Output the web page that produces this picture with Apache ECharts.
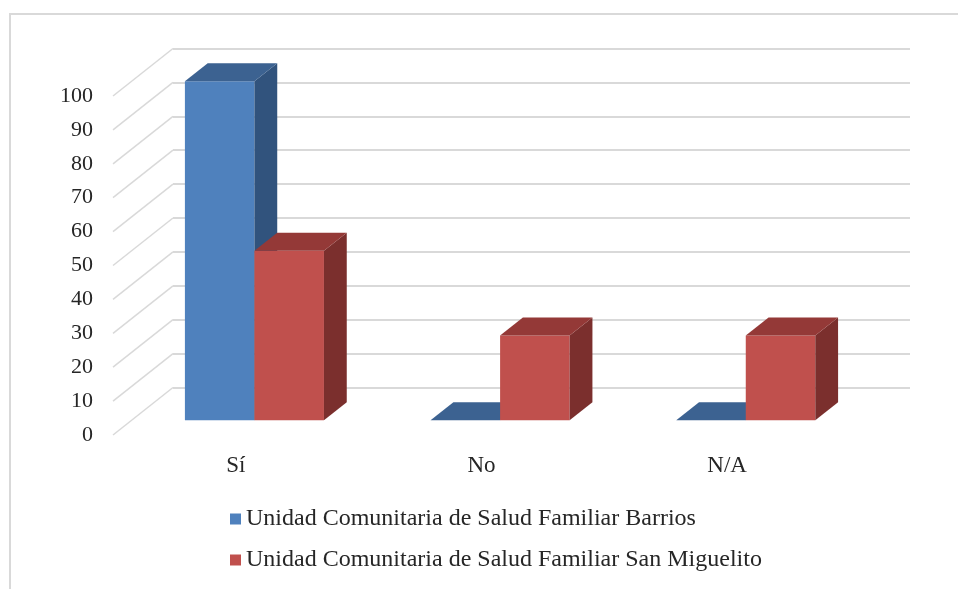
<!DOCTYPE html>
<html>
<head>
<meta charset="utf-8">
<script src="https://cdn.jsdelivr.net/npm/echarts@6/dist/echarts.min.js"></script>
<style>html,body{margin:0;padding:0;background:#fff;}#c{width:958px;height:589px;}</style>
</head>
<body>
<div id="c"></div>
<script>
// ---- data ----
const categories = ['Sí', 'No', 'N/A'];
const seriesNames = ['Unidad Comunitaria de Salud Familiar Barrios', 'Unidad Comunitaria de Salud Familiar San Miguelito'];
const barrios = [100, 0, 0];
const sanMiguelito = [50, 25, 25];
const yTicks = [0, 10, 20, 30, 40, 50, 60, 70, 80, 90, 100];

// ---- layout / style ----
const FRONT = {left: 113, top: 96, width: 737, height: 339};
const DX = 60, DY = -47.5;        // depth projection (front plane -> back wall)
const D0 = 0.31, D1 = 0.69;       // bar depth range
const BAR_FRAC = 0.283;
const FONT = '"Liberation Serif", "Times New Roman", serif';
const GRID_COLOR = '#d9d9d9';
const TEXT_COLOR = '#262626';
const colors = [
  {front: '#4f81bd', top: '#3c6291', side: '#31537d'},
  {front: '#c0504d', top: '#943937', side: '#7b2f2d'}
];

function renderBar(params, api) {
  const k = seriesNames.indexOf(params.seriesName);
  const s = colors[k];
  const bw = api.size([1, 0])[0];
  const w = bw * BAR_FRAC;
  const base = api.coord([api.value(0), 0]);
  const top = api.coord([api.value(0), api.value(1)]);
  const x0 = base[0] + (k === 0 ? -w : 0) + D0 * DX;
  const yb = base[1] + D0 * DY;
  const yt = top[1] + D0 * DY;
  const ddx = (D1 - D0) * DX, ddy = (D1 - D0) * DY;
  const children = [];
  if (yb - yt > 0.5) {
    children.push({type: 'polygon', shape: {points: [[x0, yt], [x0 + w, yt], [x0 + w, yb], [x0, yb]]},
      style: {fill: s.front}});
    children.push({type: 'polygon', shape: {points: [[x0 + w, yt], [x0 + w + ddx, yt + ddy], [x0 + w + ddx, yb + ddy], [x0 + w, yb]]},
      style: {fill: s.side}});
  }
  children.push({type: 'polygon', shape: {points: [[x0, yt], [x0 + w, yt], [x0 + w + ddx, yt + ddy], [x0 + ddx, yt + ddy]]},
    style: {fill: s.top}});
  return {type: 'group', children: children};
}

function renderOblique(params, api) {
  const bw = api.size([1, 0])[0];
  const p = api.coord([0, api.value(0)]);
  const x = p[0] - bw / 2;
  return {type: 'line', shape: {x1: x, y1: p[1], x2: x + DX, y2: p[1] + DY},
    style: {stroke: GRID_COLOR, lineWidth: 1.5}};
}

const chart = echarts.init(document.getElementById('c'), null, {renderer: 'canvas'});
chart.setOption({
  backgroundColor: '#ffffff',
  animation: false,
  graphic: [{type: 'rect', shape: {x: 10, y: 14, width: 960, height: 600},
    style: {fill: 'none', stroke: GRID_COLOR, lineWidth: 2}, silent: true, z: -1}],
  grid: [
    {left: FRONT.left + DX, top: FRONT.top + DY, width: FRONT.width, height: FRONT.height, containLabel: false},
    {left: FRONT.left, top: FRONT.top, width: FRONT.width, height: FRONT.height, containLabel: false}
  ],
  xAxis: [
    {type: 'category', gridIndex: 0, data: categories, show: false},
    {type: 'category', gridIndex: 1, data: categories,
      axisLine: {show: false}, axisTick: {show: false},
      axisLabel: {margin: 19, color: TEXT_COLOR, fontFamily: FONT, fontSize: 23}}
  ],
  yAxis: [
    {type: 'value', gridIndex: 0, min: 0, max: 100, interval: 10,
      axisLine: {show: false}, axisTick: {show: false}, axisLabel: {show: false},
      splitLine: {show: true, lineStyle: {color: GRID_COLOR, width: 2}}},
    {type: 'value', gridIndex: 1, min: 0, max: 100, interval: 10,
      axisLine: {show: false}, axisTick: {show: false}, splitLine: {show: false},
      axisLabel: {margin: 20, color: TEXT_COLOR, fontFamily: FONT, fontSize: 22, padding: [4, 0, 0, 0]}}
  ],
  legend: {
    orient: 'vertical', left: 230, top: 507, padding: 0, itemWidth: 11, itemHeight: 11, itemGap: 17,
    icon: 'rect', data: seriesNames,
    textStyle: {fontFamily: FONT, fontSize: 24, lineHeight: 24, color: TEXT_COLOR}
  },
  series: [
    {type: 'custom', name: 'oblique', xAxisIndex: 1, yAxisIndex: 1, silent: true,
      renderItem: renderOblique, data: yTicks.map(v => [v]), z: 1},
    {type: 'custom', name: seriesNames[0], xAxisIndex: 1, yAxisIndex: 1,
      itemStyle: {color: colors[0].front}, renderItem: renderBar,
      data: barrios.map((v, i) => [i, v]), z: 2},
    {type: 'custom', name: seriesNames[1], xAxisIndex: 1, yAxisIndex: 1,
      itemStyle: {color: colors[1].front}, renderItem: renderBar,
      data: sanMiguelito.map((v, i) => [i, v]), z: 3}
  ]
});
</script>
</body>
</html>
